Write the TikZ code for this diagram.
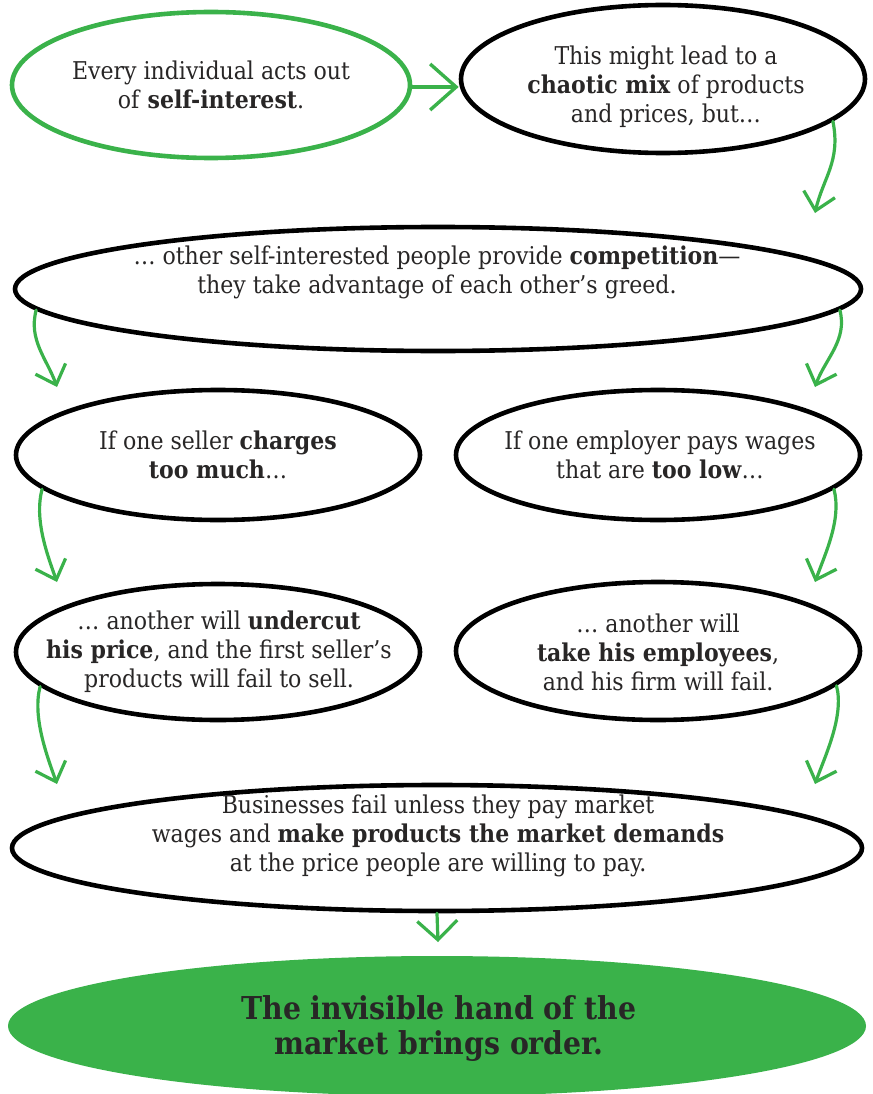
\documentclass[tikz,border=0pt]{standalone}
\usepackage{fontspec}
\setmainfont{DejaVu Serif Condensed}
\usetikzlibrary{arrows.meta,shapes.geometric}
\definecolor{gr}{RGB}{58,178,74}
\definecolor{ink}{RGB}{40,38,38}
\begin{document}
\begin{tikzpicture}[x=1pt,y=-1pt,
  bub/.style={ellipse, draw=black, line width=4.6pt, inner sep=0pt},
  gbub/.style={bub, draw=gr},
  fbub/.style={ellipse, fill=gr, draw=none, inner sep=0pt},
  txt/.style={align=center, inner sep=0pt, text=ink, font=\fontsize{24.5}{29}\selectfont},
  bigtxt/.style={align=center, inner sep=0pt, text=ink, font=\fontsize{31.5}{35}\selectfont\bfseries},
  garrow/.style={draw=gr, line width=3.2pt, line cap=round,
    -{Straight Barb[length=17pt,width=32pt,line width=3.2pt]}},
  bigarrow/.style={garrow, -{Straight Barb[length=26pt,width=46pt,line width=3.4pt]}},
]
\useasboundingbox[fill=white] (0,0) rectangle (872,1094);

% ellipses
\node[gbub, minimum width=398, minimum height=146] (e1) at (211,85) {};
\node[bub, minimum width=404, minimum height=148] (e2) at (663,79) {};
\node[bub, minimum width=846, minimum height=124] (e3) at (438,289) {};
\node[bub, minimum width=404, minimum height=130] (e4) at (218,455) {};
\node[bub, minimum width=404, minimum height=130] (e5) at (658,455) {};
\node[bub, minimum width=404, minimum height=136] (e6) at (218,652) {};
\node[bub, minimum width=404, minimum height=138] (e7) at (658,651) {};
\node[bub, minimum width=850, minimum height=126] (e8) at (437,848) {};
\node[fbub, minimum width=858, minimum height=140] (e9) at (437,1026) {};

% texts
\node[txt] (t1) at (211,85) {Every individual acts out\\of \textbf{self-interest}.};
\node[txt] (t2) at (666,87) {This might lead to a\\\textbf{chaotic mix} of products\\and prices, but\ldots};
\node[txt] (t3) at (437,272) {\ldots\ other self-interested people provide \textbf{competition}---\\they take advantage of each other's greed.};
\node[txt] (t4) at (218,455) {If one seller \textbf{charges}\\\textbf{too much}\ldots};
\node[txt] (t5) at (660,455) {If one employer pays wages\\that are \textbf{too low}\ldots};
\node[txt] (t6) at (219,652) {\ldots\ another will \textbf{undercut}\\\textbf{his price}, and the first seller's\\products will fail to sell.};
\node[txt] (t7) at (658,652) {\ldots\ another will\\\textbf{take his employees},\\and his firm will fail.};
\node[txt] (t8) at (438,836) {Businesses fail unless they pay market\\wages and \textbf{make products the market demands}\\at the price people are willing to pay.};
\node[bigtxt] (t9) at (439,1029) {The invisible hand of the\\market brings order.};

% arrow end points
\coordinate (p2) at (815,213);
\coordinate (p3l) at (57,387);
\coordinate (p3r) at (815,387);
\coordinate (p4) at (57,582);
\coordinate (p5) at (815,582);
\coordinate (p6) at (57,784);
\coordinate (p7) at (815,784);
\coordinate (p8) at (438,942);

% connectors
\draw[bigarrow] ([yshift=-2pt]e1.east) -- ([yshift=-2pt]e1.east -| e2.west);
\draw[garrow] (e2.-14) .. controls +(8,40) and +(8,-35) .. (p2);
\draw[garrow] (e3.-177) .. controls +(-8,30) and +(-10,-28) .. (p3l);
\draw[garrow] (e3.-3.5) .. controls +(8,30) and +(10,-28) .. (p3r);
\draw[garrow] (e4.-169) .. controls +(-8,30) and +(-10,-28) .. (p4);
\draw[garrow] (e5.-11) .. controls +(8,30) and +(10,-28) .. (p5);
\draw[garrow] (e6.-169) .. controls +(-8,30) and +(-10,-28) .. (p6);
\draw[garrow] (e7.-11) .. controls +(8,30) and +(10,-28) .. (p7);
\draw[garrow, -{Straight Barb[length=19pt,width=40pt,line width=3.2pt]}] (e8.south) -- (p8);
\end{tikzpicture}
\end{document}
